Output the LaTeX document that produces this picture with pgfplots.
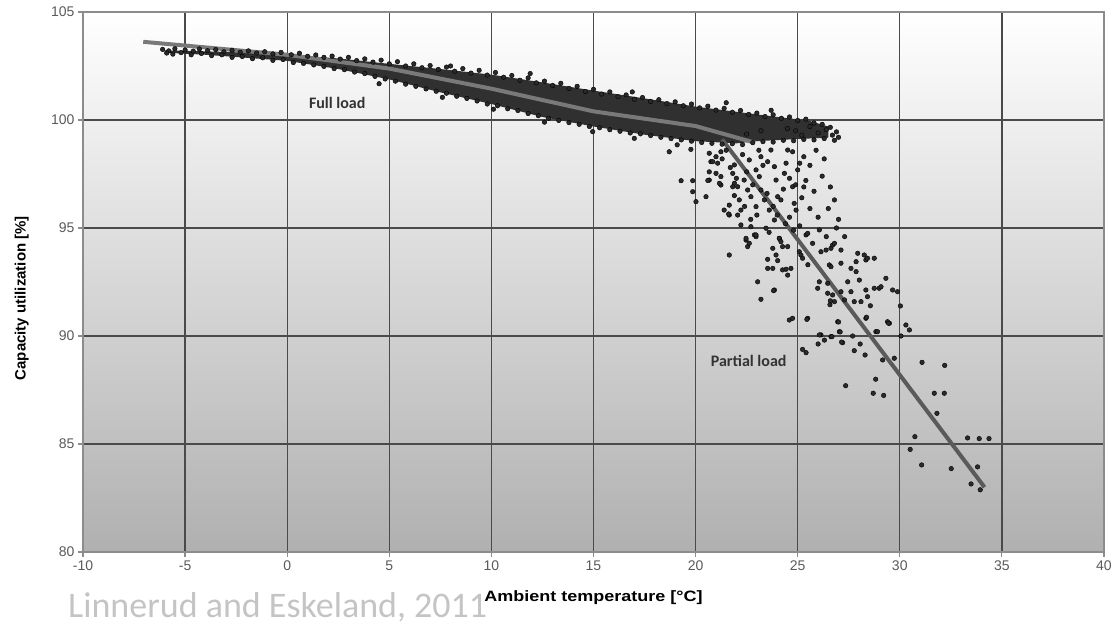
\documentclass[border=0pt]{standalone}
\usepackage{fontspec}
\setmainfont{Liberation Sans}
\newfontfamily\calib{Carlito}
\usepackage{pgfplots}
\pgfplotsset{compat=1.18}
\definecolor{dotc}{HTML}{2A2A2A}
\definecolor{corec}{HTML}{303030}
\definecolor{linec}{HTML}{6A6A6A}
\definecolor{gridc}{HTML}{4A4A4A}
\definecolor{axc}{HTML}{8C8C8C}
\definecolor{tickc}{HTML}{5A5A5A}
\definecolor{bgbot}{HTML}{B0B0B0}
\definecolor{srcc}{HTML}{C4C4C4}
\begin{document}
\begin{tikzpicture}
\useasboundingbox (-83pt,-73pt) rectangle (1031pt,552pt);
\begin{axis}[
  at={(0pt,0pt)}, anchor=south west,
  scale only axis, width=1021pt, height=540pt,
  xmin=-10, xmax=40, ymin=80, ymax=105,
  xtick={-10,-5,...,40}, ytick={80,85,...,105},
  grid=major, grid style={gridc, line width=1.3pt},
  axis line style={axc, line width=1.6pt},
  tick style={axc, line width=1.2pt}, tick align=outside, major tick length=5pt,
  tick pos=left,
  ticklabel style={font=\fontsize{14}{16}\selectfont, text=tickc},
  /pgf/number format/assume math mode=true,
  xlabel={Ambient temperature [°C]},
  ylabel={Capacity utilization [\%]},
  xlabel style={at={(axis description cs:0.5,-0.085)}, anchor=center, font=\bfseries\fontsize{15}{18}\selectfont, xscale=1.2},
  ylabel style={at={(axis description cs:-0.06,0.47)}, anchor=center, font=\bfseries\fontsize{15}{18}\selectfont},
  axis background/.style={shade, top color=white, bottom color=bgbot},
]
% dense core of the full-load band
\addplot[fill=corec, draw=none] coordinates {
(-6.0,103.22) (-4,103.18) (-2,103.12) (0,103.03) (2.5,102.85) (5,102.6) (7.5,102.36) (10,102.1) (12.5,101.74) (15,101.36) (17.5,101.0) (20,100.62) (22,100.38) (24,100.14) (25.5,99.98) (26.5,99.7)
(26.5,99.18) (25,99.12) (23,99.02) (22,98.92) (20,99.02) (17.5,99.32) (15,99.7) (12.5,100.14) (10,100.74) (7.5,101.28) (5,101.88) (2.5,102.36) (0,102.74) (-2,102.88) (-4,103.02) (-6.0,103.12)
} -- cycle;
% band edge points
\addplot[only marks, mark=*, mark size=2.3pt, mark options={fill=dotc, draw=none}] coordinates {
(-6.1,103.27) (-5.8,103.2) (-5.5,103.3) (-5.0,103.24) (-4.6,103.19) (-4.3,103.29) (-3.9,103.21) (-3.5,103.26) (-3.1,103.16) (-2.7,103.23) (-2.3,103.14) (-1.9,103.2) (-1.5,103.1) (-1.1,103.16) (-0.7,103.06) (-0.3,103.13) (0.2,103.02) (0.6,103.09) (1.0,102.95) (1.4,103.01) (1.8,102.9) (2.2,102.96) (2.6,102.82) (3.0,102.9) (3.4,102.75) (3.8,102.83) (4.2,102.68) (4.6,102.77) (5.0,102.6) (5.4,102.7) (5.8,102.5) (6.2,102.6) (6.6,102.42) (7.0,102.52) (7.4,102.34) (7.8,102.45) (8.2,102.26) (8.6,102.38) (9.0,102.17) (9.4,102.3) (9.8,102.08) (10.2,102.2) (10.6,101.98) (11.0,102.06) (11.4,101.84) (11.8,101.95) (12.2,101.72) (12.6,101.8) (13.0,101.6) (13.4,101.7) (13.8,101.46) (14.2,101.56) (14.6,101.32) (15.0,101.42) (15.4,101.2) (15.8,101.3) (16.2,101.08) (16.6,101.16) (17.0,100.96) (17.4,101.04) (17.8,100.86) (18.2,100.94) (18.6,100.76) (19.0,100.84) (19.4,100.66) (19.8,100.74) (20.2,100.56) (20.6,100.64) (21.0,100.46) (21.4,100.54) (21.8,100.36) (22.2,100.44) (22.6,100.26) (23.0,100.32) (23.4,100.16) (23.8,100.24) (24.2,100.08) (24.6,100.14) (25.0,99.98) (25.4,100.04) (25.8,99.86) (26.2,99.8) (26.6,99.66) (26.9,99.45)
(8.0,102.5) (11.9,102.15) (16.9,101.3) (21.5,100.8) (23.7,100.45)
(-5.9,103.1) (-5.6,103.05) (-5.2,103.12) (-4.7,103.02) (-4.2,103.08) (-3.7,102.98) (-3.2,103.02) (-2.7,102.9) (-2.2,102.94) (-1.7,102.84) (-1.2,102.88) (-0.7,102.76) (-0.2,102.8) (0.3,102.66) (0.8,102.62) (1.3,102.55) (1.8,102.48) (2.3,102.38) (2.8,102.33) (3.3,102.22) (3.8,102.15) (4.3,102.02) (4.8,101.9) (5.3,101.8) (5.8,101.66) (6.3,101.56) (6.8,101.44) (7.3,101.33) (7.8,101.24) (8.3,101.1) (8.8,101.0) (9.3,100.88) (9.8,100.74) (10.3,100.66) (10.8,100.52) (11.3,100.44) (11.8,100.3) (12.3,100.2) (12.8,100.08) (13.3,99.98) (13.8,99.88) (14.3,99.8) (14.8,99.7) (15.3,99.64) (15.8,99.55) (16.3,99.48) (16.8,99.4) (17.3,99.36) (17.8,99.28) (18.3,99.2) (18.8,99.14) (19.3,99.08) (19.8,99.02) (20.3,98.96) (20.8,98.92) (21.3,98.88) (21.8,98.9) (22.3,98.86) (22.8,98.95) (23.3,99.0) (23.8,98.98) (24.3,99.06) (24.8,99.04) (25.3,99.1) (25.8,99.08) (26.3,99.14) (26.8,99.06) (27.0,99.2)
(4.5,101.68) (7.6,101.05) (10.1,100.5) (14.96,99.46) (12.6,99.9) (17.0,99.15) (19.1,98.85)
(24.9,99.5) (25.6,99.7) (26.0,99.4) (26.4,99.55) (25.2,99.3) (26.7,99.3) (24.5,99.6) (23.2,99.5) (22.5,99.35)
};
% partial-load scatter
\addplot[only marks, mark=*, mark size=2.3pt, mark options={fill=dotc, draw=none}] coordinates {
(18.71,98.53) (19.77,98.64) (19.29,97.19) (19.86,97.19) (19.86,96.68) (20.02,96.22) (20.51,96.45) (20.67,97.22) (20.75,98.07) (20.67,97.6) (21.0,98.3) (21.08,98.0) (21.24,97.38) (21.24,96.99) (21.4,95.83) (21.65,96.06) (21.65,95.6) (21.82,97.53) (21.9,97.92) (21.9,97.07) (22.06,96.91) (22.14,96.3) (22.22,95.83) (22.22,95.14) (22.38,97.22) (22.55,96.76) (22.71,96.45) (22.63,98.15) (22.96,97.69) (22.96,95.99) (22.88,94.68) (23.12,97.38) (23.2,96.76) (23.37,96.3) (23.61,95.83) (23.53,98.07) (23.69,98.61) (23.86,97.84) (23.94,97.22) (24.02,96.45) (24.18,96.3) (24.35,97.53) (24.43,98.0) (24.51,98.61) (24.75,98.53) (24.75,96.91) (24.83,96.14) (24.92,95.83) (25.0,97.69) (23.86,95.37) (24.1,94.52) (22.71,95.06) (22.47,94.44) (22.96,94.6)
(21.17,97.07) (20.6,97.2) (21.0,97.53) (20.84,98.07) (20.67,98.46) (21.24,98.53) (21.62,95.65) (22.06,95.6) (21.82,96.91) (21.65,93.75) (22.55,94.14) (21.3,98.2) (22.3,98.4) (23.1,98.6) (25.3,98.3) (25.6,97.9) (25.9,98.6) (26.3,98.2) (25.4,97.2) (25.8,96.7) (26.2,97.4) (26.6,96.9) (25.2,96.4) (25.6,95.9) (24.4,95.2) (26.0,95.5) (26.5,95.9) (27.0,95.4) (26.8,96.3) (25.1,95.1)
(21.5,98.6) (21.7,97.8) (22.0,97.3) (22.4,96.0) (22.8,97.0) (23.0,95.6) (23.3,97.9) (23.5,96.6) (23.8,96.0) (24.0,95.6) (24.3,96.8) (24.6,97.3) (24.9,97.0) (25.1,98.0) (23.2,98.3) (22.5,97.6) (21.9,96.5) (22.7,95.4) (24.6,95.5) (25.3,96.9) (23.6,94.8) (24.8,94.9) (25.5,93.3) (26.9,95.0) (26.4,94.6) (27.3,94.6)
(22.47,94.52) (22.63,94.29) (22.96,94.68) (23.45,94.99) (24.1,94.52) (24.18,94.37) (24.26,94.14) (24.51,94.14) (23.78,94.06) (23.94,93.75) (23.53,93.55) (24.02,93.49) (23.53,93.13) (23.78,93.13) (24.26,93.06) (24.43,93.09) (24.67,93.13) (24.51,92.82) (23.04,92.51) (23.86,92.13) (23.2,91.7) (23.82,92.1) (24.59,90.74) (24.75,90.82) (25.49,90.82) (25.08,93.9) (25.16,93.75) (25.24,93.6) (25.41,94.68) (25.73,94.29) (25.49,94.75) (26.06,94.91) (26.14,93.9) (26.39,93.98) (26.63,94.06) (26.71,94.21) (26.8,94.29) (27.12,93.98) (26.55,93.29) (26.63,93.21) (27.12,93.37) (27.61,93.13) (27.86,92.98) (27.94,93.83) (28.26,93.75) (28.34,93.52) (28.42,93.6) (28.75,93.6) (27.86,93.44) (27.45,92.51) (28.02,92.59) (26.06,92.51) (25.98,92.21) (26.47,92.44) (26.47,91.98) (26.71,91.9) (26.8,91.59) (27.12,92.05) (27.29,91.67) (27.61,92.05) (28.34,92.13) (28.42,91.82) (28.75,92.21) (28.99,92.21) (29.08,92.28) (29.32,92.67) (29.65,92.13) (29.89,92.05) (29.4,90.66) (28.34,90.82) (26.96,90.66) (27.04,90.2) (26.14,90.05) (26.63,89.97) (28.83,90.2)
(27.77,91.59) (28.1,91.59) (28.56,91.4) (30.03,91.39) (29.49,90.59) (30.3,90.51) (30.47,90.28) (28.91,90.2) (27.69,90.0) (30.06,90.0) (27.2,89.69) (28.06,89.63) (27.77,89.32) (28.3,89.12) (29.16,88.89) (29.73,88.97) (31.09,88.78) (32.2,88.64) (28.82,88.0) (27.35,87.7) (28.7,87.35) (29.21,87.25) (31.69,87.35) (32.18,87.35) (31.82,86.42) (30.74,85.34) (33.32,85.28) (33.89,85.25) (34.37,85.25)
(30.51,84.75) (31.07,84.03) (32.52,83.86) (33.81,83.94) (33.49,83.15) (33.94,82.88)
(25.45,90.77) (25.24,89.38) (25.41,89.23) (26.06,90.05) (26.0,89.63) (26.31,89.81) (26.68,89.97) (27.15,89.72) (27.08,90.19) (27.0,90.65) (26.58,91.45) (26.6,91.63) (28.37,90.87) (29.45,90.59)
};
% fitted lines
\addplot[linec!90!white, line width=4pt] coordinates {(-7.05,103.62) (0,103.02) (5,102.38) (10,101.45) (15,100.4) (20,99.72) (22.9,98.95)};
\addplot[linec!85!black, line width=4pt] coordinates {(21.3,99.1) (34.15,83.0)};
\node[font=\calib\bfseries\fontsize{16}{18}\selectfont, text=black!80] at (axis cs:2.45,100.79) {Full load};
\node[font=\calib\bfseries\fontsize{16}{18}\selectfont, text=black!80] at (axis cs:22.6,88.84) {Partial load};
\end{axis}
\node[anchor=base west, font=\calib\fontsize{36}{40}\selectfont, text=srcc, inner sep=0pt] at (-15pt,-65pt) {Linnerud and Eskeland, 2011};
\end{tikzpicture}
\end{document}
